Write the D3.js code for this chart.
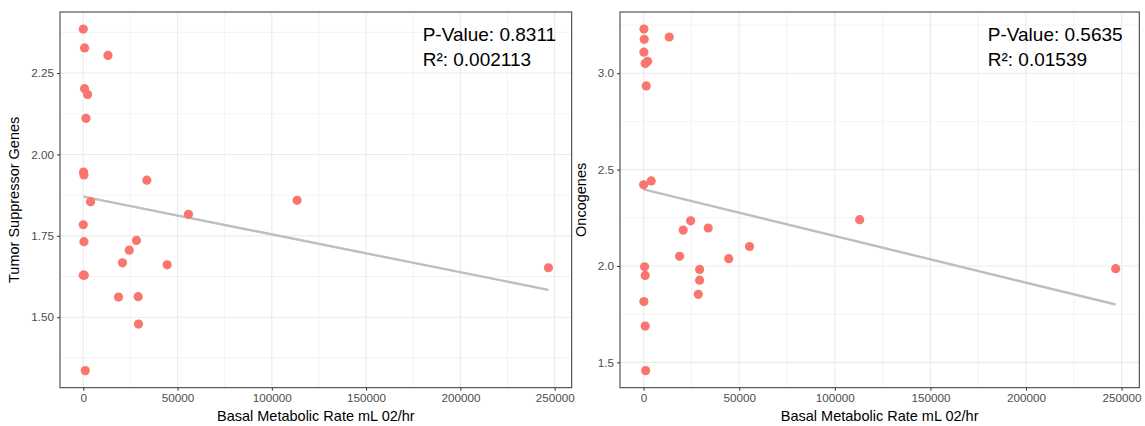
<!DOCTYPE html>
<html>
<head>
<meta charset="utf-8">
<script src="https://cdn.jsdelivr.net/npm/d3@7"></script>
<style>
  body { margin: 0; background: #fff; font-family: "Liberation Sans", Arial, Helvetica, sans-serif; }
</style>
</head>
<body>
<div id="chart"></div>
<script>
// basal metabolic rate (x) and gene counts (y)
const bmrTsg = [0, 690, 13100, 690, 2280, 1430, 160, 370, 33700, 3870, 55800, 113400,
  0, 370, 28200, 24400, 20800, 44500, 530, 0, 18700, 29100, 29300, 1060, 246700];
const tsg = [2.385, 2.327, 2.304, 2.202, 2.184, 2.111, 1.946, 1.937, 1.921, 1.855, 1.816, 1.859,
  1.784, 1.732, 1.736, 1.706, 1.667, 1.661, 1.629, 1.629, 1.562, 1.563, 1.479, 1.336, 1.652];

const bmrOnco = [160, 310, 13400, 160, 2090, 840, 1360, 0, 3970, 24600, 20700, 33800, 55400,
  18800, 44500, 520, 840, 29300, 29300, 28600, 160, 840, 1050, 113000, 246900];
const onco = [3.229, 3.176, 3.188, 3.109, 3.062, 3.050, 2.934, 2.421, 2.441, 2.234, 2.186, 2.197, 2.101,
  2.050, 2.038, 1.996, 1.951, 1.982, 1.926, 1.853, 1.815, 1.688, 1.457, 2.240, 1.986];

const xTicks = [0, 50000, 100000, 150000, 200000, 250000];
const tsgTicks = [1.5, 1.75, 2.0, 2.25];
const oncoTicks = [1.5, 2.0, 2.5, 3.0];
const pValues = ["0.8311", "0.5635"];
const rSquared = ["0.002113", "0.01539"];

const W = 1145, H = 426;
const svg = d3.select("#chart").append("svg").attr("width", W).attr("height", H);

// simple least squares fit
function fit(xs, ys) {
  const mx = d3.mean(xs), my = d3.mean(ys);
  let sxy = 0, sxx = 0;
  xs.forEach((x, i) => {
    sxy += (x - mx) * (ys[i] - my);
    sxx += (x - mx) * (x - mx);
  });
  const b = sxy / sxx;
  return { a: my - b * mx, b: b };
}

// ggplot style 5% padding
function padded(vals) {
  const [lo, hi] = d3.extent(vals);
  const p = (hi - lo) * 0.05;
  return [lo - p, hi + p];
}

function midpoints(ticks, domain) {
  const step = ticks[1] - ticks[0];
  const out = [];
  for (let v = ticks[0] - step / 2; v <= domain[1]; v += step) {
    if (v >= domain[0]) out.push(v);
  }
  return out;
}

function drawPanel(cfg) {
  const g = svg.append("g").attr("transform", `translate(${cfg.left},${cfg.top})`);
  const w = cfg.width, h = cfg.height;

  const x = d3.scaleLinear().domain(padded(cfg.xs)).range([0, w]);
  const y = d3.scaleLinear().domain(padded(cfg.ys)).range([h, 0]);

  // grid
  const grid = g.append("g");
  grid.selectAll(".xminor").data(midpoints(xTicks, x.domain())).enter().append("line")
    .attr("x1", d => x(d)).attr("x2", d => x(d)).attr("y1", 0).attr("y2", h)
    .attr("stroke", "#ebebeb").attr("stroke-width", 0.6);
  grid.selectAll(".yminor").data(midpoints(cfg.yTicks, y.domain())).enter().append("line")
    .attr("y1", d => y(d)).attr("y2", d => y(d)).attr("x1", 0).attr("x2", w)
    .attr("stroke", "#ebebeb").attr("stroke-width", 0.6);
  grid.selectAll(".xmajor").data(xTicks).enter().append("line")
    .attr("x1", d => x(d)).attr("x2", d => x(d)).attr("y1", 0).attr("y2", h)
    .attr("stroke", "#ebebeb").attr("stroke-width", 1.1);
  grid.selectAll(".ymajor").data(cfg.yTicks).enter().append("line")
    .attr("y1", d => y(d)).attr("y2", d => y(d)).attr("x1", 0).attr("x2", w)
    .attr("stroke", "#ebebeb").attr("stroke-width", 1.1);

  // regression line
  const lm = fit(cfg.xs, cfg.ys);
  const xr = d3.extent(cfg.xs);
  g.append("line")
    .attr("x1", x(xr[0])).attr("y1", y(lm.a + lm.b * xr[0]))
    .attr("x2", x(xr[1])).attr("y2", y(lm.a + lm.b * xr[1]))
    .attr("stroke", "#bebebe").attr("stroke-width", 2.4);

  // points
  g.selectAll("circle").data(cfg.xs).enter().append("circle")
    .attr("cx", d => x(d))
    .attr("cy", (d, i) => y(cfg.ys[i]))
    .attr("r", 4.6)
    .attr("fill", "#F8766D");

  // border
  g.append("rect").attr("width", w).attr("height", h)
    .attr("fill", "none").attr("stroke", "#333").attr("stroke-width", 1);

  // axes
  const xAxis = g.append("g").attr("transform", `translate(0,${h})`)
    .call(d3.axisBottom(x).tickValues(xTicks).tickFormat(d3.format("d")).tickSize(3).tickPadding(3));
  const yAxis = g.append("g")
    .call(d3.axisLeft(y).tickValues(cfg.yTicks).tickFormat(d3.format(cfg.yFmt)).tickSize(3).tickPadding(3));
  [xAxis, yAxis].forEach(a => {
    a.select(".domain").remove();
    a.selectAll(".tick line").attr("stroke", "#333");
    a.selectAll("text").attr("fill", "#4d4d4d").style("font-size", "11.7px")
      .style("font-family", '"Liberation Sans", Arial, sans-serif');
  });

  // titles
  g.append("text").attr("x", w / 2).attr("y", h + 33.5)
    .attr("text-anchor", "middle").style("font-size", "14.5px").attr("fill", "#000")
    .text("Basal Metabolic Rate mL 02/hr");
  g.append("text")
    .attr("transform", `translate(${cfg.yTitleX},${h / 2}) rotate(-90)`)
    .attr("text-anchor", "middle").style("font-size", "14.5px").attr("fill", "#000")
    .text(cfg.ylab);

  // stats annotation
  const ax = x(180000);
  g.append("text").attr("x", ax).attr("y", 29).style("font-size", "19px").attr("fill", "#000")
    .text("P-Value: " + cfg.p);
  g.append("text").attr("x", ax).attr("y", 53.7).style("font-size", "19px").attr("fill", "#000")
    .text("R\u00b2: " + cfg.r2);
}

drawPanel({ left: 60, top: 12, width: 511.7, height: 375.7, xs: bmrTsg, ys: tsg,
  yTicks: tsgTicks, yFmt: ".2f", ylab: "Tumor Suppressor Genes", yTitleX: -41.5,
  p: pValues[0], r2: rSquared[0] });
drawPanel({ left: 620, top: 12, width: 519.3, height: 375.7, xs: bmrOnco, ys: onco,
  yTicks: oncoTicks, yFmt: ".1f", ylab: "Oncogenes", yTitleX: -34,
  p: pValues[1], r2: rSquared[1] });
</script>
</body>
</html>
